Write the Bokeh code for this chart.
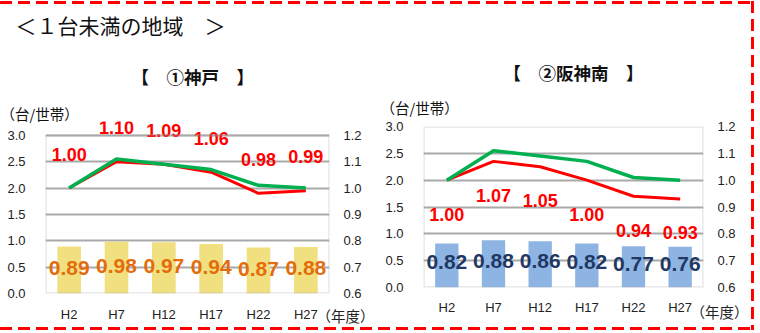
from bokeh.plotting import figure
from bokeh.models import (ColumnDataSource, Range1d, LinearAxis, FixedTicker,
                          NumeralTickFormatter, LabelSet, Title, BoxAnnotation)
from bokeh.layouts import row, column
from bokeh.core.properties import value
from bokeh.embed import file_html
from bokeh.resources import INLINE

# ---------------- data ----------------
years = ["H2", "H7", "H12", "H17", "H22", "H27"]
kobe_cars = [0.89, 0.98, 0.97, 0.94, 0.87, 0.88]          # 台/世帯 (bars, left axis)
kobe_index = [1.00, 1.10, 1.09, 1.06, 0.98, 0.99]         # red line (right axis)
hanshin_cars = [0.82, 0.88, 0.86, 0.82, 0.77, 0.76]
hanshin_index = [1.00, 1.07, 1.05, 1.00, 0.94, 0.93]
ref_index = [1.00, 1.11, 1.09, 1.07, 1.01, 1.00]          # green line (right axis)
left_ticks = [0.0, 0.5, 1.0, 1.5, 2.0, 2.5, 3.0]
right_ticks = [0.6, 0.7, 0.8, 0.9, 1.0, 1.1, 1.2]

main_title = "＜１台未満の地域　＞"
panel_titles = ["【　①神戸　】", "【　②阪神南　】"]
unit_label = "（台/世帯）"
year_label = "（年度）"

JP = "Noto Sans CJK JP"
NUM = "Liberation Sans"
GRID = "#A9A9A9"
LEFT_MAX, RIGHT_MIN, RIGHT_MAX = 3.0, 0.6, 1.2


def panel(cars, index, bar_color, bar_lbl_color, bar_lbl_off, idx_off,
          mb_left, mb_right, mb_top, mb_bottom, headroom_px, x_standoff,
          yl_standoff, yl_pad):
    plot_h = 333 - mb_top - mb_bottom
    box_px = plot_h - headroom_px
    top_val = LEFT_MAX * plot_h / box_px
    scale = (RIGHT_MAX - RIGHT_MIN) / LEFT_MAX
    p = figure(x_range=years, y_range=Range1d(0, top_val), width=380, height=333,
               output_backend="svg", toolbar_location=None,
               min_border_left=mb_left, min_border_right=mb_right,
               min_border_top=mb_top, min_border_bottom=mb_bottom,
               border_fill_color=None, background_fill_color=None)
    p.title = None
    p.extra_y_ranges = {"idx": Range1d(RIGHT_MIN, RIGHT_MIN + top_val * scale)}

    src = ColumnDataSource(dict(x=years, cars=cars, half=[c / 2 for c in cars],
                                idx=index, ref=ref_index,
                                cars_txt=[f"{c:.2f}" for c in cars],
                                idx_txt=[f"{v:.2f}" for v in index]))

    p.vbar(x="x", top="cars", width=0.5, source=src, fill_color=bar_color, line_color=None)
    p.line(x="x", y="idx", source=src, y_range_name="idx", line_color="#FF0000", line_width=3)
    p.line(x="x", y="ref", source=src, y_range_name="idx", line_color="#00B050", line_width=3.5)

    p.add_layout(LabelSet(x="x", y="half", text="cars_txt", source=src,
                          text_align="center", text_baseline="middle", y_offset=bar_lbl_off,
                          text_font=value(NUM), text_font_style="bold",
                          text_font_size="21px", text_color=bar_lbl_color))
    p.add_layout(LabelSet(x="x", y="idx", text="idx_txt", source=src, y_range_name="idx",
                          text_align="center", text_baseline="middle", y_offset=idx_off,
                          text_font=value(NUM), text_font_style="bold",
                          text_font_size="18px", text_color="#FF0000"))

    ra = LinearAxis(y_range_name="idx")
    p.add_layout(ra, "right")
    p.yaxis[0].ticker = FixedTicker(ticks=left_ticks)
    p.yaxis[0].formatter = NumeralTickFormatter(format="0.0")
    ra.ticker = FixedTicker(ticks=right_ticks)
    ra.formatter = NumeralTickFormatter(format="0.0")
    p.yaxis[0].major_label_standoff = 20
    ra.major_label_standoff = 14
    xa = p.xaxis[0]
    xa.major_label_standoff = x_standoff
    xa.axis_label = yl_pad + year_label
    xa.axis_label_text_font = JP
    xa.axis_label_text_font_size = "14.5px"
    xa.axis_label_text_font_style = "normal"
    xa.axis_label_text_color = "#222222"
    xa.axis_label_standoff = yl_standoff
    try:
        xa.axis_label_align = "end"
    except Exception:
        pass
    for ax in p.axis:
        ax.axis_line_color = None
        ax.major_tick_line_color = None
        ax.minor_tick_line_color = None
        ax.major_tick_out = 0
        ax.major_tick_in = 0
        ax.major_label_text_font = NUM
        ax.major_label_text_font_size = "13px"
        ax.major_label_text_color = "#222222"

    p.xgrid.grid_line_color = None
    p.ygrid.ticker = FixedTicker(ticks=left_ticks)
    p.ygrid.grid_line_color = GRID
    p.ygrid.grid_line_width = 2
    p.outline_line_color = None
    p.add_layout(BoxAnnotation(bottom=0, top=LEFT_MAX, fill_color=None,
                               line_color=GRID, line_width=2.5))
    return p


def title(p, text, size, offset, standoff, bold=False):
    p.add_layout(Title(text=text, align="left", offset=offset, standoff=standoff,
                       text_font=JP, text_font_size=size,
                       text_font_style="bold" if bold else "normal",
                       text_color="#111111"), "above")


# ---- left panel: 神戸 ----
p1 = panel(kobe_cars, kobe_index, "#F0E080", "#E46C0A", 2, 34,
           45, 51, 118, 40, 14, 13, -20, "　　 ")
title(p1, unit_label, "14.5px", -45, -4)
title(p1, panel_titles[0], "17.5px", 86, 28, bold=True)
title(p1, main_title, "21px", -30, 15)

# ---- right panel: 阪神南 ----
p2 = panel(hanshin_cars, hanshin_index, "#8DB4E2", "#1F3864", 3, -34,
           43, 57, 126, 46, 0, 12, -17, "　　 ")
title(p2, unit_label, "14.5px", -43, 18)
title(p2, panel_titles[1], "17.5px", 80, 2, bold=True)

dash = "repeating-linear-gradient(to right, #FF0000 0px, #FF0000 12px, transparent 12px, transparent 18px)"
dash_v = "repeating-linear-gradient(to bottom, #FF0000 0px, #FF0000 12px, transparent 12px, transparent 18px)"
layout = row(column(p1), column(p2), styles={
    "background-image": f"{dash}, {dash}, {dash_v}",
    "background-size": "755px 3px, 755px 3px, 3px 329px",
    "background-position": "0px 1px, 0px 327px, 751px 1px",
    "background-repeat": "no-repeat, no-repeat, no-repeat",
})

open("out.html", "w").write(file_html(layout, INLINE))
